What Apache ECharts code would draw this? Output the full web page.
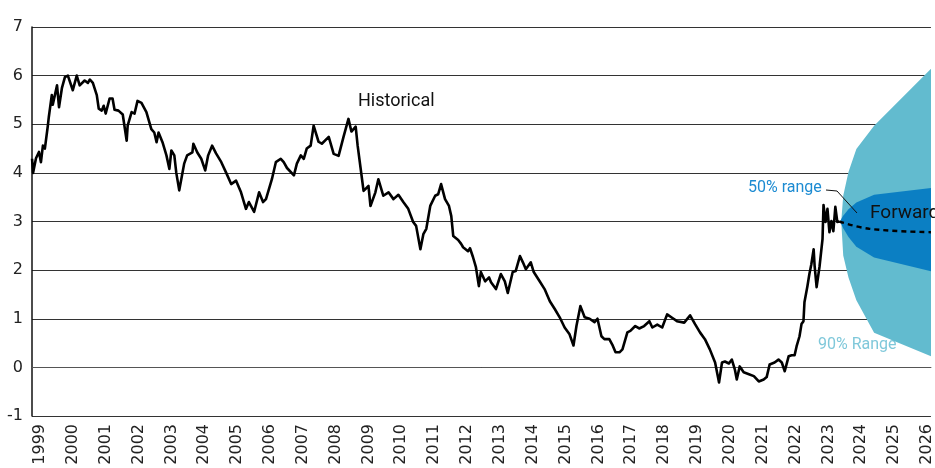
<!DOCTYPE html>
<html>
<head>
<meta charset="utf-8">
<script src="https://cdn.jsdelivr.net/npm/echarts@6/dist/echarts.min.js"></script>
<style>
  html, body { margin: 0; padding: 0; background: #fff; }
  #main { width: 935px; height: 468px; }
</style>
</head>
<body>
<div id="main"></div>
<script>
// tick labels on the time axis
var yearTicks = [1999,2000,2001,2002,2003,2004,2005,2006,2007,2008,2009,2010,2011,2012,2013,
  2014,2015,2016,2017,2018,2019,2020,2021,2022,2023,2024,2025,2026];

// historical rate, decimal year / percent
var histYear = [1998.76,1998.79,1998.88,1998.97,1999.03,1999.09,1999.15,1999.24,1999.27,1999.36,
  1999.39,1999.52,1999.58,1999.67,1999.76,1999.85,2000.00,2000.12,2000.21,2000.36,
  2000.46,2000.52,2000.61,2000.73,2000.79,2000.88,2000.94,2001.00,2001.12,2001.21,
  2001.27,2001.39,2001.52,2001.64,2001.67,2001.79,2001.88,2001.97,2002.09,2002.15,
  2002.24,2002.39,2002.48,2002.55,2002.61,2002.73,2002.85,2002.94,2003.00,2003.09,
  2003.15,2003.24,2003.33,2003.39,2003.48,2003.64,2003.67,2003.79,2003.91,2004.03,
  2004.12,2004.24,2004.36,2004.52,2004.67,2004.82,2004.97,2005.12,2005.27,2005.36,
  2005.52,2005.67,2005.79,2005.88,2006.06,2006.18,2006.33,2006.42,2006.52,2006.73,
  2006.82,2006.94,2007.03,2007.12,2007.24,2007.33,2007.48,2007.58,2007.79,2007.94,
  2008.09,2008.24,2008.39,2008.48,2008.61,2008.67,2008.79,2008.85,2009.00,2009.06,
  2009.21,2009.30,2009.45,2009.61,2009.76,2009.91,2010.06,2010.21,2010.36,2010.45,
  2010.58,2010.67,2010.76,2010.88,2011.03,2011.12,2011.21,2011.33,2011.45,2011.52,
  2011.58,2011.73,2011.82,2011.88,2012.03,2012.09,2012.18,2012.27,2012.36,2012.42,
  2012.55,2012.67,2012.73,2012.88,2013.03,2013.15,2013.24,2013.39,2013.48,2013.61,
  2013.70,2013.79,2013.94,2014.03,2014.21,2014.36,2014.52,2014.67,2014.82,2014.97,
  2015.12,2015.24,2015.33,2015.45,2015.58,2015.73,2015.88,2015.97,2016.09,2016.18,
  2016.33,2016.42,2016.52,2016.64,2016.73,2016.88,2016.97,2017.12,2017.24,2017.39,
  2017.55,2017.64,2017.79,2017.94,2018.09,2018.24,2018.39,2018.61,2018.79,2018.94,
  2019.09,2019.24,2019.39,2019.55,2019.67,2019.76,2019.85,2019.97,2020.06,2020.15,
  2020.21,2020.30,2020.42,2020.58,2020.73,2020.88,2021.03,2021.12,2021.21,2021.36,
  2021.48,2021.58,2021.67,2021.79,2021.88,2021.97,2022.03,2022.12,2022.18,2022.24,
  2022.27,2022.36,2022.42,2022.48,2022.55,2022.58,2022.64,2022.73,2022.82,2022.85,
  2022.91,2022.97,2023.03,2023.09,2023.15,2023.21,2023.27,2023.33];
var histRate = [4.29,4.00,4.30,4.43,4.22,4.56,4.50,4.97,5.15,5.60,
  5.40,5.80,5.35,5.75,5.97,6.00,5.70,6.00,5.80,5.90,
  5.85,5.92,5.85,5.60,5.32,5.28,5.38,5.22,5.53,5.53,
  5.30,5.28,5.20,4.66,4.97,5.25,5.22,5.48,5.44,5.48,
  5.25,4.90,4.83,4.63,4.83,4.63,4.36,4.08,4.46,4.36,
  4.00,3.64,3.97,4.19,4.36,4.42,4.60,4.42,4.29,4.05,
  4.36,4.56,4.40,4.22,4.00,3.77,3.84,3.60,3.26,3.40,
  3.20,3.60,3.40,3.46,3.87,4.22,4.29,4.22,4.10,3.95,
  4.19,4.36,4.29,4.50,4.56,4.97,4.64,4.60,4.74,4.39,
  4.35,4.74,5.11,4.85,4.95,4.56,3.94,3.63,3.73,3.32,
  3.60,3.87,3.53,3.60,3.46,3.55,3.40,3.26,2.99,2.91,
  2.43,2.74,2.85,3.32,3.53,3.56,3.77,3.46,3.32,3.11,
  2.70,2.62,2.54,2.47,2.39,2.45,2.27,2.06,1.67,1.96,
  1.77,1.85,1.75,1.61,1.92,1.77,1.53,1.96,1.98,2.29,
  2.16,2.02,2.16,1.96,1.77,1.61,1.36,1.20,1.03,0.82,
  0.68,0.45,0.85,1.26,1.03,1.00,0.93,1.00,0.64,0.58,
  0.58,0.47,0.31,0.31,0.37,0.72,0.75,0.85,0.80,0.85,
  0.95,0.82,0.88,0.82,1.09,1.02,0.95,0.92,1.07,0.89,
  0.72,0.58,0.37,0.10,-0.31,0.10,0.12,0.08,0.16,-0.04,
  -0.25,0.02,-0.10,-0.14,-0.18,-0.29,-0.25,-0.20,0.06,0.10,
  0.16,0.10,-0.08,0.23,0.25,0.25,0.43,0.64,0.89,0.95,
  1.34,1.67,1.92,2.12,2.43,2.08,1.65,2.08,2.64,3.34,
  2.99,3.26,2.78,3.01,2.80,3.30,2.99,3.00];

// forward path
var fwdYear = [2023.33, 2024.24, 2026.12];
var fwdRate = [3.00, 2.85, 2.78];

// fan quantiles (last point runs just past the right edge)
var fanYear = [2023.36, 2023.39, 2023.45, 2023.61, 2023.85, 2024.39, 2026.40];
var up90 = [3.00, 3.00, 3.53, 4.02, 4.49, 4.97, 6.33];
var up50 = [3.00, 3.05, 3.12, 3.25, 3.39, 3.55, 3.71];
var lo50 = [3.00, 2.95, 2.86, 2.68, 2.48, 2.26, 1.93];
var lo90 = [3.00, 3.00, 2.30, 1.85, 1.38, 0.71, 0.15];

var pairs = function(xs, ys){
  return xs.map(function(x, i){ return [x, ys[i]]; });
};

var TEAL = '#62bbcf', BLUE = '#0b7fc3';

// band between two quantile lines, drawn once as a polygon
var band = function(upper, lower, color, z){
  return {
    type: 'custom',
    data: pairs(fanYear, upper),
    clip: true,
    silent: true,
    z: z,
    renderItem: function(params, api){
      if (params.dataIndex !== 0) return;
      var top = fanYear.map(function(x, i){ return api.coord([x, upper[i]]); });
      var bot = fanYear.map(function(x, i){ return api.coord([x, lower[i]]); }).reverse();
      return {
        type: 'polygon',
        shape: { points: top.concat(bot) },
        style: { fill: color, stroke: null }
      };
    }
  };
};

var chart = echarts.init(document.getElementById('main'));
chart.setOption({
  animation: false,
  grid: { left: 32, top: 27, right: 0, bottom: 52, containLabel: false },
  xAxis: {
    type: 'value',
    min: 1998.758,
    max: 2026.12,
    axisLine: { show: true, lineStyle: { color: '#555', width: 1 } },
    axisTick: { show: false },
    splitLine: { show: false },
    axisLabel: {
      customValues: yearTicks,
      rotate: 90,
      margin: 8,
      fontFamily: 'DejaVu Sans',
      fontSize: 16,
      color: '#222',
      formatter: function(v){ return String(Math.round(v)); }
    }
  },
  yAxis: {
    type: 'value',
    min: -1,
    max: 7,
    interval: 1,
    axisLine: { show: true, lineStyle: { color: '#111', width: 1.5 } },
    axisTick: { show: false },
    splitLine: { lineStyle: { color: '#333', width: 1.2 } },
    axisLabel: {
      margin: 9,
      fontFamily: 'DejaVu Sans',
      fontSize: 16,
      color: '#222'
    }
  },
  series: [
    band(up90, lo90, TEAL, 1),
    band(up50, lo50, BLUE, 2),
    { type: 'line', data: pairs(histYear, histRate), symbol: 'none',
      lineStyle: { color: '#000', width: 2.6, join: 'round' }, z: 3 },
    { type: 'line', data: pairs(fwdYear, fwdRate), symbol: 'none', smooth: 0.4,
      lineStyle: { color: '#000', width: 2.4, type: [5, 4] }, z: 3 }
  ],
  graphic: [
    { type: 'text', left: 358, top: 92,
      style: { text: 'Historical', font: '18px Roboto', fill: '#111' } },
    { type: 'text', left: 748, top: 180,
      style: { text: '50% range', font: '16px Roboto', fill: '#1c8bd2' } },
    { type: 'polyline', shape: { points: [[826, 190], [837, 191], [857, 213]] },
      style: { stroke: '#111', lineWidth: 1, fill: null }, z: 10 },
    { type: 'text', left: 870, top: 204,
      style: { text: 'Forward', font: '19px Roboto', fill: '#111' }, z: 10 },
    { type: 'text', left: 818, top: 337,
      style: { text: '90% Range', font: '16px Roboto', fill: '#7fc8da' } }
  ]
});
</script>
</body>
</html>
